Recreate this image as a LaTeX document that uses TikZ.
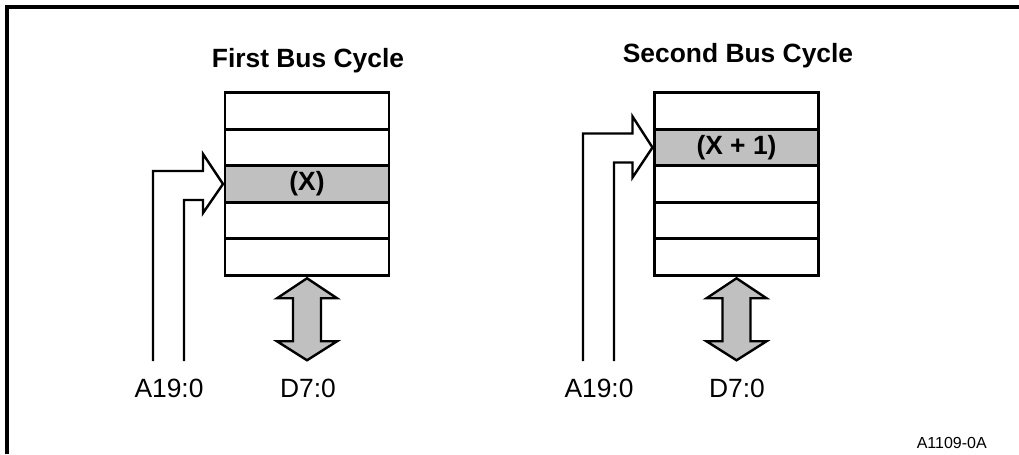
\documentclass[tikz,border=0pt]{standalone}
\usepackage{fontspec}
\setmainfont{Liberation Sans}
\usetikzlibrary{calc}

\definecolor{cellgray}{RGB}{192,192,192}

\tikzset{
cell/.style={
draw,
line width=2pt,
inner sep=0pt,
outer sep=0pt,
minimum width=123pt,
minimum height=27.4pt,
font=\bfseries\fontsize{19.8}{24}\selectfont
},
selcell/.style={cell, fill=cellgray},
addr/.style={line width=1.8pt, line join=miter},
databus/.style={line width=1.8pt, fill=cellgray, line join=miter},
lbl/.style={anchor=base, inner sep=0pt, font=\fontsize{19.8}{24}\selectfont},
ttl/.style={anchor=base, inner sep=0pt, font=\bfseries\fontsize{19.8}{24}\selectfont}
}

\begin{document}
\begin{tikzpicture}[x=0.75pt, y=-0.75pt]

\useasboundingbox (0,0) rectangle (1019,454);

% frame
\draw[line width=3pt] (7,454) -- (7,7) -- (1019,7);

% first bus cycle
\node[ttl] (T1) at (308,67) {First Bus Cycle};

\node[cell] (L1) at (307,111) {};
\node[cell] (L2) at (307,147.5) {};
\node[selcell] (L3) at (307,184) {(X)};
\node[cell] (L4) at (307,220.5) {};
\node[cell] (L5) at (307,257) {};

\node[lbl] (LA) at (169,397) {A19:0};
\node[lbl] (LD) at (308,397) {D7:0};

\coordinate (LAout) at (153,361);
\coordinate (LAin) at (184,361);

\draw[addr] (LAout) |- ($(L3.west)+(-22,-13)$) -- ++(0,-17)
-- ($(L3.west)+(-2,0)$) -- ($(L3.west)+(-22,29)$) -- ++(0,-13) -| (LAin);

\draw[databus] ($(L5.south)+(0,3)$) -- ++(30,20) -- ++(-16,0) -- ++(0,43)
-- ++(16,0) -- ++(-30,19) -- ++(-30,-19) -- ++(16,0) -- ++(0,-43)
-- ++(-16,0) -- cycle;

% second bus cycle
\node[ttl] (T2) at (738,62) {Second Bus Cycle};

\node[cell] (R1) at (736.5,111) {};
\node[selcell] (R2) at (736.5,147.5) {(X + 1)};
\node[cell] (R3) at (736.5,184) {};
\node[cell] (R4) at (736.5,220.5) {};
\node[cell] (R5) at (736.5,257) {};

\node[lbl] (RA) at (599,397) {A19:0};
\node[lbl] (RD) at (737,397) {D7:0};

\coordinate (RAout) at (583,361);
\coordinate (RAin) at (614,361);

\draw[addr] (RAout) |- ($(R2.west)+(-22,-14)$) -- ++(0,-17)
-- ($(R2.west)+(-2,0)$) -- ($(R2.west)+(-22,30)$) -- ++(0,-15) -| (RAin);

\draw[databus] ($(R5.south)+(0,3)$) -- ++(30,20) -- ++(-16,0) -- ++(0,43)
-- ++(16,0) -- ++(-30,19) -- ++(-30,-19) -- ++(16,0) -- ++(0,-43)
-- ++(-16,0) -- cycle;

% figure id
\node[anchor=base east, inner sep=0pt, font=\fontsize{12}{14}\selectfont] (ID) at (987,448) {A1109-0A};

\end{tikzpicture}
\end{document}
